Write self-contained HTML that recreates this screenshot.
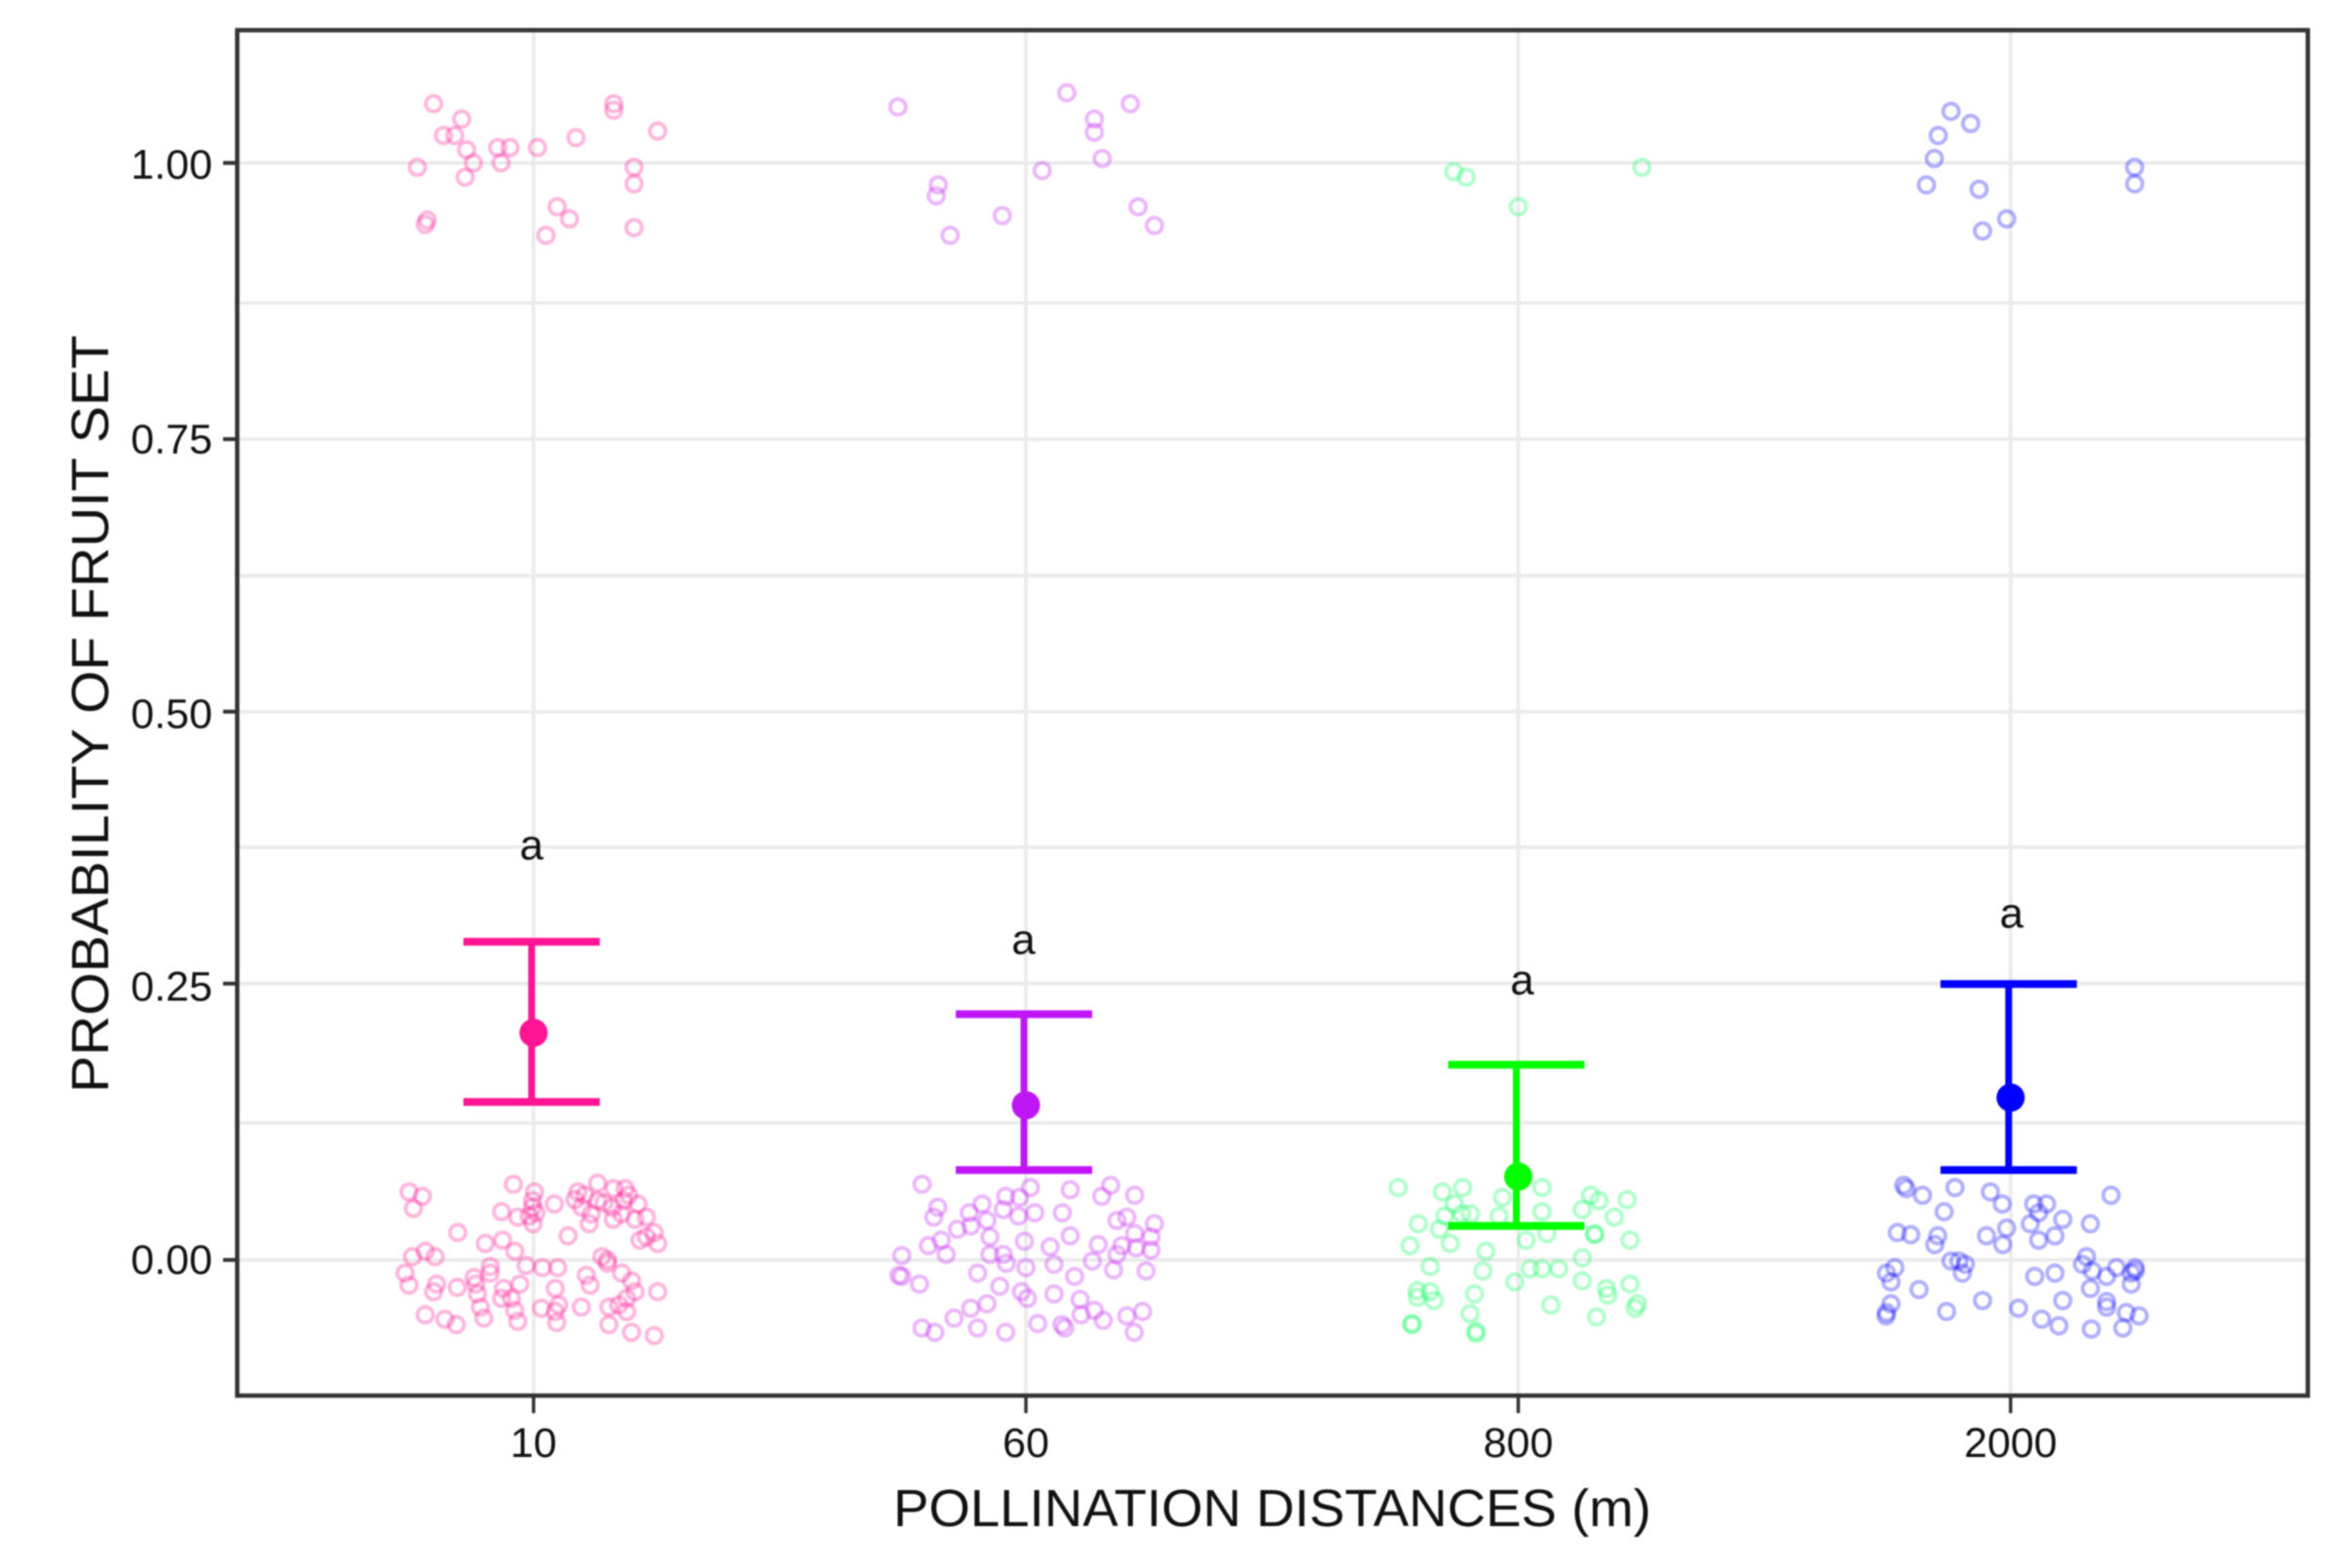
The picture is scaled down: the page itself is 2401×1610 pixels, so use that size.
<!DOCTYPE html>
<html lang="en">
<head>
<meta charset="utf-8">
<title>Probability of fruit set by pollination distance</title>
<style>
html,body{margin:0;padding:0;background:#fff;}
svg{display:block;filter:blur(0.85px);}
text{font-family:"Liberation Sans",sans-serif;fill:#111;}
</style>
</head>
<body>
<svg id="chart" xmlns="http://www.w3.org/2000/svg" width="2401" height="1610" viewBox="0 0 2401 1610">
<rect x="0" y="0" width="2401" height="1610" fill="#fff"/>
<g id="grid"></g>
<g id="points"></g>
<g id="errors"></g>
<g id="letters"></g>
<rect x="243.5" y="31" width="2125.5" height="1402" fill="none" stroke="#333" stroke-width="4.5"/>
<g id="axes"></g>
<text x="1306" y="1567" font-size="54" text-anchor="middle" textLength="778" lengthAdjust="spacingAndGlyphs">POLLINATION DISTANCES (m)</text>
<text transform="translate(111,733) rotate(-90)" font-size="54" text-anchor="middle" textLength="778" lengthAdjust="spacingAndGlyphs">PROBABILITY OF FRUIT SET</text>
</svg>
<script>
const categories = ["10", "60", "800", "2000"];
// gridline levels (the source image's axis is slightly uneven)
const yTickValues = [0, 0.2519, 0.4998, 0.7482, 1];
const yTickLabels = ["0.00", "0.25", "0.50", "0.75", "1.00"];
const yMinorValues = [0.1249, 0.3763, 0.6238, 0.8724];
const seriesColors = ["#ff1493", "#bf16f5", "#00ff00", "#0000ff"];
const pointColors = ["#ff1493", "#bf16f5", "#00ff55", "#0000ff"];
const means = [0.207, 0.141, 0.076, 0.148];
const lowers = [0.144, 0.082, 0.031, 0.082];
const uppers = [0.290, 0.224, 0.178, 0.2515];
const letterLabels = ["a", "a", "a", "a"];
const letterHeights = [0.365, 0.279, 0.242, 0.303];
const letterOffsets = [-0.004, -0.005, 0.008, 0.002];

// each point: [horizontal jitter in category units, probability]
const points10 = [[-.203,1.054],[-.146,1.040],[-.183,1.025],[-.160,1.025],[-.136,1.012],[-.073,1.014],[-.048,1.014],[.008,1.014],[.086,1.023],[.163,1.054],[.163,1.048],[.252,1.029],[-.236,.996],[-.122,1.0],[-.066,1.0],[-.139,.987],[.204,.996],[.204,.981],[.048,.960],[.073,.949],[.025,.934],[.204,.941],[-.216,.948],[-.220,.944],
[-.253,.062],[-.226,.058],[-.244,.047],[-.041,.069],[-.065,.044],[-.032,.039],[.002,.062],[-.002,.054],[-.009,.040],[-.001,.033],[.042,.051],[.090,.062],[.084,.055],[.098,.048],[.113,.033],[.130,.070],[.163,.065],[.186,.065],[.193,.059],[.130,.054],[.160,.048],[.183,.054],[.212,.051],[.229,.039],[.162,.037],[.206,.037],[.245,.025],[.216,.018],[.252,.015],[.229,.021],[-.154,.025],[.070,.022],[-.098,.015],[-.063,.018],[-.038,.008],[-.246,.003],[-.220,.008],[-.200,.003],[-.261,-.012],[-.253,-.023],[-.088,-.006],[-.015,-.005],[.018,-.007],[.049,-.007],[.139,.003],[.150,-.003],[.179,-.012],[.107,-.014],[.115,-.023],[.199,-.019],[.206,-.029],[.252,-.029],[-.197,-.022],[-.203,-.029],[-.155,-.025],[-.121,-.016],[-.114,-.031],[-.061,-.026],[-.028,-.022],[-.045,-.035],[-.065,-.035],[-.220,-.050],[-.180,-.054],[-.157,-.059],[-.108,-.043],[-.101,-.053],[-.038,-.046],[-.032,-.056],[.016,-.044],[.044,-.047],[.047,-.057],[.097,-.043],[.153,-.043],[.173,-.041],[.189,-.047],[.153,-.059],[.199,-.066],[.245,-.069],[.189,-.035],[-.117,-.022],[-.088,-.012],[-.002,.048],[.005,.043],[.104,.059],[.117,.042],[.143,.052],[.179,.042],[.150,.000],[.044,-.026],[.051,-.041]];

const points60 = [[-.260,1.051],[.083,1.064],[.212,1.054],[.139,1.040],[.139,1.028],[.155,1.004],[.033,.993],[-.178,.980],[-.182,.970],[-.048,.952],[-.154,.934],[.228,.960],[.261,.943],
[-.211,.069],[-.179,.048],[-.187,.039],[-.139,.028],[-.115,.043],[-.089,.051],[-.079,.036],[-.112,.031],[-.041,.058],[-.013,.057],[.009,.066],[-.046,.046],[-.015,.040],[.018,.043],[.074,.043],[.090,.064],[.154,.058],[.172,.068],[.221,.059],[.185,.036],[.205,.039],[.261,.033],[.221,.024],[.254,.021],[-.172,.018],[-.198,.013],[-.162,.005],[-.073,.021],[-.073,.005],[-.046,.005],[-.003,.017],[.049,.012],[.090,.022],[.147,.014],[.135,-.001],[.195,.013],[.185,.005],[.224,.011],[.254,.009],[.178,-.009],[.244,-.010],[-.252,.004],[-.252,-.015],[-.258,-.014],[-.216,-.022],[-.098,-.012],[-.040,-.003],[0,-.007],[.057,-.004],[.099,-.015],[-.053,-.024],[-.009,-.029],[.003,-.035],[.057,-.031],[.110,-.036],[-.079,-.040],[-.112,-.044],[-.146,-.053],[-.211,-.062],[-.185,-.066],[-.098,-.062],[-.041,-.066],[.024,-.058],[.073,-.059],[.079,-.062],[.112,-.050],[.139,-.046],[.157,-.055],[.205,-.051],[.237,-.047],[.220,-.066]];

const points800 = [[-.131,.992],[-.106,.987],[0,.960],[.251,.996],
[-.244,.066],[-.154,.062],[-.113,.066],[-.130,.051],[-.149,.040],[-.097,.042],[-.115,.042],[-.032,.057],[-.039,.040],[.048,.066],[.048,.044],[.147,.059],[.164,.054],[.130,.046],[.221,.055],[.195,.039],[.155,.024],[.155,.023],[.227,.018],[-.203,.033],[-.160,.028],[-.220,.013],[-.138,.015],[-.066,.008],[.016,.018],[.058,.024],[.130,.002],[-.179,-.006],[-.072,-.010],[.024,-.008],[.048,-.008],[.082,-.008],[-.007,-.020],[.130,-.019],[.227,-.022],[.179,-.026],[.182,-.032],[-.205,-.028],[-.179,-.029],[-.205,-.034],[-.171,-.037],[-.089,-.031],[.066,-.041],[.242,-.040],[.237,-.044],[-.098,-.049],[.159,-.052],[-.216,-.058],[-.216,-.059],[-.086,-.065],[-.086,-.067]];

const points2000 = [[-.121,1.047],[-.081,1.036],[-.147,1.025],[-.155,1.004],[-.171,.980],[-.064,.976],[-.008,.949],[-.057,.938],[.252,.996],[.252,.981],
[-.217,.068],[-.212,.065],[-.179,.059],[-.113,.066],[-.041,.062],[-.017,.051],[-.135,.044],[.047,.051],[.073,.051],[.057,.043],[.106,.037],[.040,.033],[.204,.059],[.162,.033],[-.230,.025],[-.203,.023],[-.148,.022],[-.154,.014],[-.049,.022],[-.008,.029],[-.016,.014],[.057,.018],[.090,.022],[-.121,-.001],[-.105,-.001],[-.092,-.004],[-.098,-.012],[-.235,-.007],[-.252,-.012],[-.243,-.020],[-.186,-.027],[-.057,-.037],[-.130,-.047],[-.243,-.040],[-.252,-.048],[-.253,-.051],[.016,-.044],[.049,-.015],[.090,-.012],[.106,-.037],[.063,-.054],[.098,-.060],[.154,.003],[.146,-.004],[.166,-.010],[.195,-.015],[.215,-.007],[.253,-.007],[.245,-.012],[.253,-.010],[.245,-.022],[.162,-.026],[.195,-.043],[.235,-.048],[.261,-.051],[.228,-.062],[.164,-.063],[.195,-.038]];

const pointSeries = [points10, points60, points800, points2000];

const NS = "http://www.w3.org/2000/svg";
function xScale(position) { return 547.7 + position * 505.4; }
function yScale(value) { return 1293.7 - value * 1126.4; }
function make(tag, parent, attrs) {
  const el = document.createElementNS(NS, tag);
  for (const key in attrs) el.setAttribute(key, attrs[key]);
  parent.appendChild(el);
  return el;
}
const PANEL = { left: 243.5, right: 2369, top: 31, bottom: 1433 };
const grid = document.getElementById("grid");
const axes = document.getElementById("axes");
const pointsLayer = document.getElementById("points");
const errorsLayer = document.getElementById("errors");
const lettersLayer = document.getElementById("letters");
const gridStyle = { stroke: "#ebebeb", "stroke-width": 3.8 };
const tickLabelNudge = [14.5, 17.5, 17, 14.5, 16];

yMinorValues.forEach(function (v) {
  const line = make("line", grid, Object.assign({ x1: PANEL.left, x2: PANEL.right, y1: yScale(v), y2: yScale(v) }, gridStyle));
  
  
});
yTickValues.forEach(function (v, i) {
  const y = yScale(v);
  const line = make("line", grid, Object.assign({ x1: PANEL.left, x2: PANEL.right, y1: y, y2: y }, gridStyle));
  
  
  const tick = make("line", axes, { x1: PANEL.left - 14.5, x2: PANEL.left, y1: y, y2: y, stroke: "#333", "stroke-width": 4 });
  
  
  const label = make("text", axes, { x: 218, y: y + tickLabelNudge[i], "font-size": 43, "text-anchor": "end" });
  label.textContent = yTickLabels[i];
  
  
});
categories.forEach(function (name, i) {
  const x = xScale(i);
  const line = make("line", grid, Object.assign({ x1: x, x2: x, y1: PANEL.top, y2: PANEL.bottom }, gridStyle));
  
  
  const tick = make("line", axes, { x1: x, x2: x, y1: PANEL.bottom, y2: PANEL.bottom + 18, stroke: "#333", "stroke-width": 3.5 });
  
  
  const label = make("text", axes, { x: x, y: 1496, "font-size": 43, "text-anchor": "middle" });
  label.textContent = name;
  
  
});
pointSeries.forEach(function (series, i) {
  const group = make("g", pointsLayer, {});
  
  
  series.forEach(function (p) {
    const c = make("circle", group, { cx: xScale(i + p[0]), cy: yScale(p[1]), r: 8, fill: "none", stroke: pointColors[i], "stroke-opacity": 0.3, "stroke-width": 4 });
    
    
  });
});
categories.forEach(function (name, i) {
  const color = seriesColors[i];
  const group = make("g", errorsLayer, {});
  
  
  const cx = xScale(i) - 2;
  const yHi = yScale(uppers[i]);
  const yLo = yScale(lowers[i]);
  const stem = make("line", group, { x1: cx, x2: cx, y1: yHi, y2: yLo, stroke: color, "stroke-width": 7 });
  
  
  const capTop = make("line", group, { x1: cx - 70, x2: cx + 70, y1: yHi, y2: yHi, stroke: color, "stroke-width": 8 });
  
  
  const capBottom = make("line", group, { x1: cx - 70, x2: cx + 70, y1: yLo, y2: yLo, stroke: color, "stroke-width": 8 });
  
  
  const dot = make("circle", group, { cx: xScale(i), cy: yScale(means[i]), r: 14.5, fill: color });
  
  
  const letter = make("text", lettersLayer, { x: xScale(i + letterOffsets[i]), y: yScale(letterHeights[i]), "font-size": 44, "text-anchor": "middle" });
  letter.textContent = letterLabels[i];
  
  
});
</script>
</body>
</html>
